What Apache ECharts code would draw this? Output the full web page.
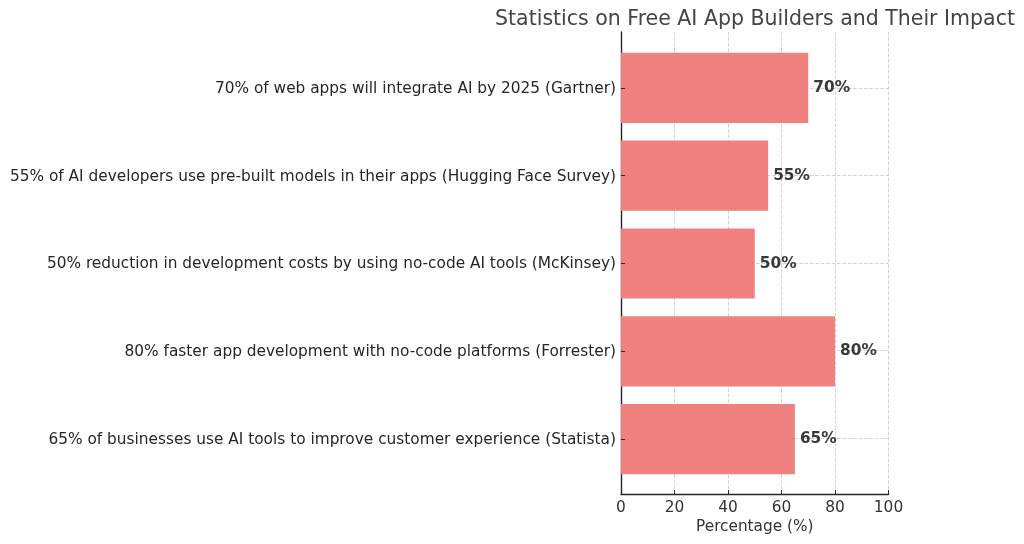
<!DOCTYPE html>
<html>
<head>
<meta charset="utf-8">
<style>
html, body { margin: 0; padding: 0; background: #fff; }
#chart { width: 1024px; height: 544px; }
</style>
<script src="https://cdn.jsdelivr.net/npm/echarts@6/dist/echarts.min.js"></script>
</head>
<body>
<div id="chart"></div>
<script>
var chartTitle = 'Statistics on Free AI App Builders and Their Impact';
var xName = 'Percentage (%)';
var categories = [
    '65% of businesses use AI tools to improve customer experience (Statista)',
    '80% faster app development with no-code platforms (Forrester)',
    '50% reduction in development costs by using no-code AI tools (McKinsey)',
    '55% of AI developers use pre-built models in their apps (Hugging Face Survey)',
    '70% of web apps will integrate AI by 2025 (Gartner)'
];
var values = [65, 80, 50, 55, 70];
var rowLines = [0, 1, 2, 3, 4];

var fontName = '"DejaVu Sans"';
var gridLine = { show: true, lineStyle: { color: '#c4c4c4', type: 'dashed', width: 0.9, opacity: 0.85 } };
var spine = { show: true, onZero: false, lineStyle: { color: '#262626', width: 1.4 } };

var chart = echarts.init(document.getElementById('chart'));
chart.setOption({
    animation: false,
    backgroundColor: '#ffffff',
    title: {
        text: chartTitle,
        left: 750,
        top: 4,
        textAlign: 'center',
        textStyle: { fontFamily: fontName, fontSize: 20.5, fontWeight: 'normal', color: '#444444' }
    },
    // 外层网格画坐标轴和虚线, 内层网格放柱子 (上下留边)
    grid: [
        { left: 621, right: 135.5, top: 32, bottom: 50 },
        { left: 621, right: 135.5, top: 44, bottom: 61 }
    ],
    xAxis: [
        {
            gridIndex: 0,
            type: 'value',
            min: 0,
            max: 100,
            interval: 20,
            name: xName,
            nameLocation: 'middle',
            nameGap: 25,
            nameTextStyle: { fontFamily: fontName, fontSize: 15.3, color: '#333333' },
            axisLine: spine,
            axisTick: { show: true, inside: true, length: 4, lineStyle: { color: '#262626' } },
            axisLabel: { fontFamily: fontName, fontSize: 15.4, color: '#333333', margin: 6, hideOverlap: false },
            splitLine: gridLine
        },
        { gridIndex: 1, type: 'value', min: 0, max: 100, show: false }
    ],
    yAxis: [
        {
            gridIndex: 0,
            type: 'value',
            min: -0.64,
            max: 4.64,
            axisLine: spine,
            axisTick: { show: false, customValues: rowLines },
            axisLabel: { show: false },
            splitLine: gridLine
        },
        {
            gridIndex: 1,
            type: 'category',
            z: 3,
            data: categories,
            axisLine: { show: false },
            axisTick: { show: true, inside: true, alignWithLabel: true, length: 4, lineStyle: { color: '#262626' } },
            axisLabel: {
                margin: 5,
                interval: 0,
                formatter: function (v) { return '{t|' + v + '}'; },
                rich: {
                    t: { fontFamily: fontName, fontSize: 15.35, color: '#262626', padding: [2, 0, 0, 0] }
                }
            },
            splitLine: { show: false }
        }
    ],
    series: [{
        type: 'bar',
        xAxisIndex: 1,
        yAxisIndex: 1,
        data: values,
        barWidth: '80%',
        itemStyle: { color: '#f17d7d', opacity: 0.97 },
        label: {
            show: true,
            position: 'right',
            distance: 5,
            formatter: '{c}%',
            fontFamily: fontName,
            fontSize: 15.4,
            fontWeight: 'bold',
            color: '#333333'
        }
    }]
});
</script>
</body>
</html>
